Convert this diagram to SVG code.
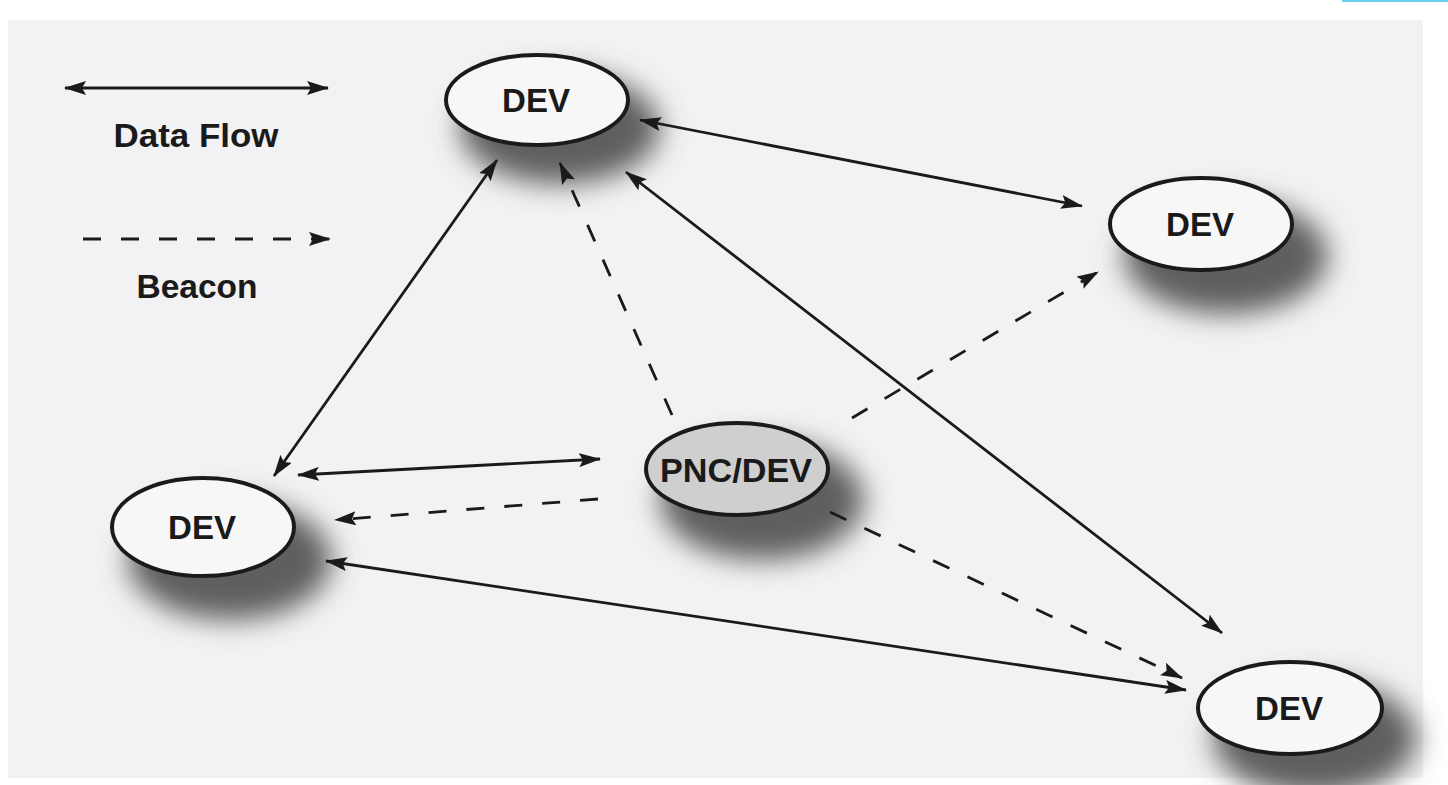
<svg xmlns="http://www.w3.org/2000/svg" width="1448" height="785" viewBox="0 0 1448 785">
<style>
.bg{fill:#f2f2f4}
.node{stroke:#1a1a1a;stroke-width:4}
.dev{fill:#f7f7f7}
.pnc{fill:#cfcfcf}
.shadow{fill:#5e5e5e;filter:url(#blur)}
.lbl{font-family:"Liberation Sans",Arial,sans-serif;font-weight:bold;font-size:33px;fill:#1a1a1a;text-anchor:middle}
.leg{font-family:"Liberation Sans",Arial,sans-serif;font-weight:bold;font-size:34px;fill:#1a1a1a;text-anchor:middle}
.flow{stroke:#1a1a1a;stroke-width:2.8;fill:none;marker-start:url(#ah);marker-end:url(#ah)}
.beacon{stroke:#1a1a1a;stroke-width:2.8;fill:none;stroke-dasharray:18 20;marker-end:url(#ah)}
</style>
<defs>
<filter id="blur" x="-50%" y="-50%" width="200%" height="200%"><feGaussianBlur stdDeviation="14"/></filter>
<marker id="ah" viewBox="0 0 22 14" refX="21" refY="7" markerWidth="22" markerHeight="14" markerUnits="userSpaceOnUse" orient="auto-start-reverse">
<path d="M0,0 L22,7 L0,14 L4,7 Z" fill="#1a1a1a"/>
</marker>
</defs>
<rect x="0" y="0" width="1448" height="785" fill="#ffffff"/>
<rect class="bg" x="8" y="20" width="1415" height="758"/>
<rect x="1342" y="0" width="106" height="2" fill="#6fcdf0"/>

<g id="legend">
<line class="flow" x1="65" y1="88" x2="328" y2="88"/>
<text class="leg" x="196" y="147" textLength="165" lengthAdjust="spacingAndGlyphs">Data Flow</text>
<line class="beacon" x1="83" y1="239" x2="330" y2="239"/>
<text class="leg" x="197" y="298" textLength="121" lengthAdjust="spacingAndGlyphs">Beacon</text>
</g>

<g id="node-top">
<ellipse class="shadow" cx="560" cy="128" rx="100" ry="56"/>
<ellipse class="node dev" cx="537" cy="100" rx="91" ry="45"/>
<text class="lbl" x="536" y="112" textLength="68" lengthAdjust="spacingAndGlyphs">DEV</text>
</g>
<g id="node-right">
<ellipse class="shadow" cx="1226" cy="256" rx="102" ry="58"/>
<ellipse class="node dev" cx="1201" cy="224" rx="91" ry="46"/>
<text class="lbl" x="1200" y="236" textLength="68" lengthAdjust="spacingAndGlyphs">DEV</text>
</g>
<g id="node-pnc">
<ellipse class="shadow" cx="762" cy="500" rx="102" ry="60"/>
<ellipse class="node pnc" cx="737" cy="469" rx="91" ry="46"/>
<text class="lbl" x="736" y="482" font-size="35" textLength="152" lengthAdjust="spacingAndGlyphs">PNC/DEV</text>
</g>
<g id="node-left">
<ellipse class="shadow" cx="230" cy="560" rx="102" ry="60"/>
<ellipse class="node dev" cx="203" cy="527" rx="91" ry="49"/>
<text class="lbl" x="202" y="539" textLength="68" lengthAdjust="spacingAndGlyphs">DEV</text>
</g>
<g id="node-bottom-right">
<ellipse class="shadow" cx="1315" cy="738" rx="102" ry="58"/>
<ellipse class="node dev" cx="1290" cy="708" rx="92" ry="46"/>
<text class="lbl" x="1289" y="720" textLength="68" lengthAdjust="spacingAndGlyphs">DEV</text>
</g>

<g id="connectors">
<line class="flow" x1="640" y1="120" x2="1082" y2="206"/>
<line class="flow" x1="497" y1="160" x2="274" y2="476"/>
<line class="flow" x1="626" y1="172" x2="1222" y2="633"/>
<line class="flow" x1="298" y1="475" x2="600" y2="459"/>
<line class="flow" x1="326" y1="561" x2="1186" y2="690"/>
<line class="beacon" x1="672" y1="415" x2="560" y2="163"/>
<line class="beacon" x1="852" y1="418" x2="1098" y2="272"/>
<line class="beacon" x1="598" y1="499" x2="335" y2="520"/>
<line class="beacon" x1="830" y1="512" x2="1182" y2="678"/>
</g>
</svg>
